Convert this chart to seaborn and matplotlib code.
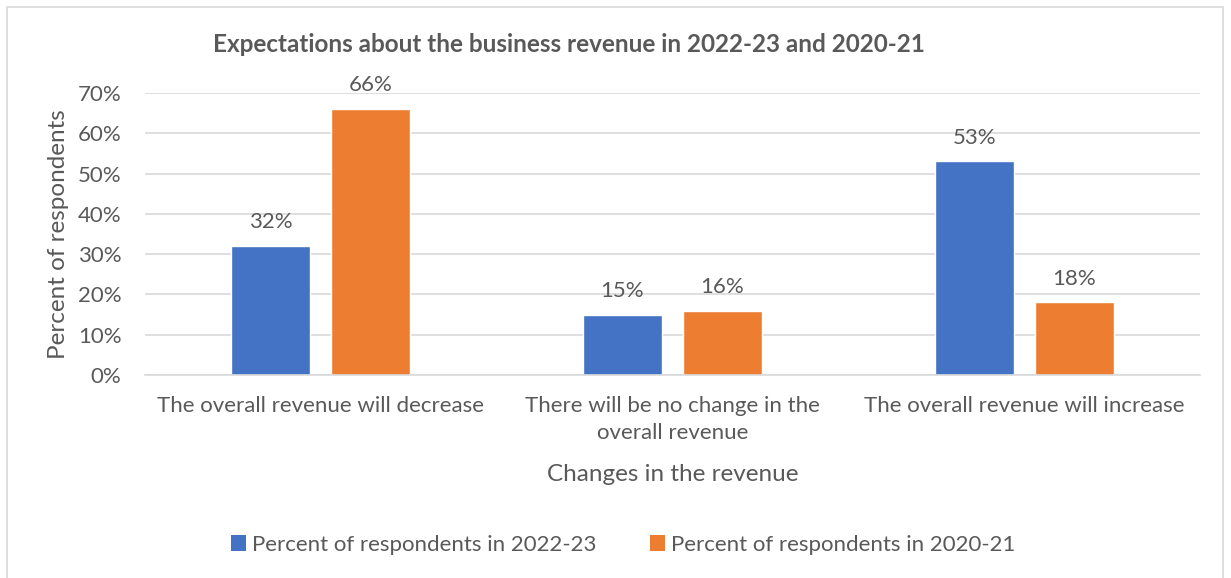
import matplotlib
matplotlib.use("Agg")
import matplotlib.pyplot as plt
from matplotlib.lines import Line2D
from matplotlib.patches import Patch
import seaborn as sns
import pandas as pd

categories = [
    "The overall revenue will decrease",
    "There will be no change in the\noverall revenue",
    "The overall revenue will increase",
]
series_names = ["Percent of respondents in 2022-23", "Percent of respondents in 2020-21"]
values_2022_23 = [32, 15, 53]
values_2020_21 = [66, 16, 18]
y_ticks = [0, 10, 20, 30, 40, 50, 60, 70]

df = pd.DataFrame({
    "category": categories * 2,
    "series": [series_names[0]] * 3 + [series_names[1]] * 3,
    "value": values_2022_23 + values_2020_21,
})

sns.set_theme(style="white")
plt.rcParams["font.family"] = ["Lato", "DejaVu Sans"]

TEXT = "#595959"
GRID = "#D9D9D9"
palette = {series_names[0]: "#4472C4", series_names[1]: "#ED7D31"}

W, H = 1231, 578
fig = plt.figure(figsize=(W / 100, H / 100), dpi=100)
ax = fig.add_axes([145 / W, 1 - 375 / H, (1200 - 145) / W, (375 - 93) / H])

sns.barplot(data=df, x="category", y="value", hue="series", order=categories,
            hue_order=series_names, palette=palette, width=0.569, gap=0.21,
            saturation=1, ax=ax, legend=False)

ax.set_ylim(0, 70)
ax.set_xlim(-0.5, 2.5)
ax.set_yticks(y_ticks)
ax.set_yticklabels([f"{t}%" for t in y_ticks])
ax.yaxis.grid(True, color=GRID, linewidth=1.2)
ax.set_axisbelow(True)
for s in ["top", "right", "left"]:
    ax.spines[s].set_visible(False)
ax.spines["bottom"].set_color(GRID)
ax.spines["bottom"].set_linewidth(1.2)
ax.tick_params(axis="both", length=0, colors=TEXT, labelsize=16)
ax.tick_params(axis="x", pad=15)
ax.tick_params(axis="y", pad=17)
for lbl in ax.get_xticklabels():
    lbl.set_linespacing(1.45)

ax.set_xlabel("Changes in the revenue", fontsize=17.5, color=TEXT, labelpad=15)
ax.set_ylabel("Percent of respondents", fontsize=17.5, color=TEXT, labelpad=6)

for container in ax.containers:
    ax.bar_label(container, labels=[f"{v:.0f}%" for v in container.datavalues],
                 padding=10, fontsize=16, color=TEXT)

fig.text(569 / W, 1 - 44 / H, "Expectations about the business revenue in 2022-23 and 2020-21",
         ha="center", va="center", fontsize=17.5, fontweight="bold", color=TEXT)

handles = [Patch(facecolor=palette[n], edgecolor="none") for n in series_names]
fig.legend(handles, series_names, loc="center", bbox_to_anchor=(623 / W, 1 - 545 / H),
           ncol=2, frameon=False, fontsize=16, labelcolor=TEXT, handlelength=0.7,
           handleheight=0.7, handletextpad=0.25, columnspacing=2.4)

# chart area border
for (x0, y0, x1, y1) in [(7, 7, 1223, 7), (7, 7, 7, 600), (1223, 7, 1223, 600)]:
    fig.add_artist(Line2D([x0 / W, x1 / W], [1 - y0 / H, 1 - y1 / H],
                          color=GRID, linewidth=1.2, transform=fig.transFigure))

fig.savefig("out.png", dpi=100)
